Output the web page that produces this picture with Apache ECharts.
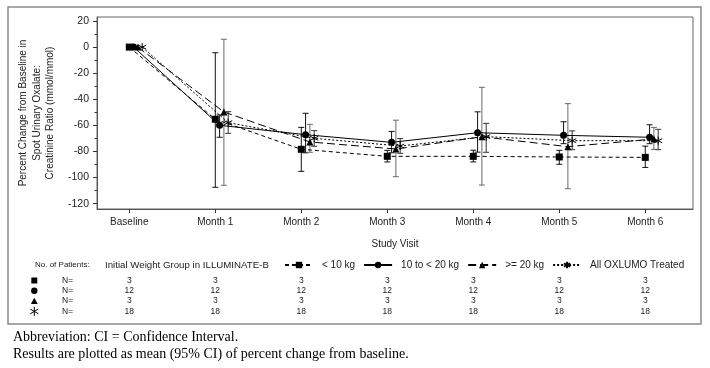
<!DOCTYPE html>
<html><head><meta charset="utf-8">
<script src="https://cdn.jsdelivr.net/npm/echarts@6/dist/echarts.min.js"></script>
<style>html,body{margin:0;padding:0;background:#fff}#c{width:710px;height:368px}</style>
</head><body><div id="c"></div>
<script>
// ---- data ----
const categories = ['Baseline', 'Month 1', 'Month 2', 'Month 3', 'Month 4', 'Month 5', 'Month 6'];
const seriesNames = ['< 10 kg', '10 to < 20 kg', '>= 20 kg', 'All OXLUMO Treated'];

const meanLt10 = [0, -55.3, -78.3, -83.7, -83.7, -84.2, -84.5];
const lowLt10  = [null, -107.4, -95.2, -88.0, -88.0, -89.8, -92.2];
const highLt10 = [null, -4.3, -61.5, -79.1, -79.0, -79.1, -75.9];

const mean10to20 = [0, -59.9, -67.1, -73.0, -65.6, -67.6, -69.1];
const low10to20  = [null, -69.1, -81.0, -81.0, -80.5, -74.0, -74.0];
const high10to20 = [null, -52.0, -50.7, -64.6, -49.6, -57.2, -59.5];

const meanGe20 = [0, -49.7, -72.7, -78.1, -68.7, -76.3, -70.4];
const lowGe20  = [null, -105.9, -80.6, -99.3, -105.7, -108.5, -78.4];
const highGe20 = [null, 6.0, -59.2, -56.0, -30.8, -43.3, -61.5];

const meanAll = [0, -57.9, -69.9, -75.8, -68.6, -71.7, -71.7];
const lowAll  = [null, -66.1, -76.0, -81.4, -80.6, -78.6, -78.6];
const highAll = [null, -49.5, -64.0, -70.1, -58.4, -64.2, -63.0];

const nLt10 = [3, 3, 3, 3, 3, 3, 3];
const n10to20 = [12, 12, 12, 12, 12, 12, 12];
const nGe20 = [3, 3, 3, 3, 3, 3, 3];
const nAll = [18, 18, 18, 18, 18, 18, 18];

const yTicks = [20, 0, -20, -40, -60, -80, -100, -120];
const yMinorTicks = [10, -10, -30, -50, -70, -90, -110];
const xTicks = [0, 1, 2, 3, 4, 5, 6];

// ---- helpers ----
const FONT = '"Liberation Sans", Arial, sans-serif';
const offsets = [0, 0.05, 0.1, 0.15];
const starPath = 'path://M0,-6L0,6M-5.2,-3L5.2,3M-5.2,3L5.2,-3';
function pts(mean, off) { return mean.map((v, i) => [i + off, v]); }
function ci(low, high, off) {
  const out = [];
  low.forEach((l, i) => { if (l != null) out.push([i + off, l, high[i]]); });
  return out;
}
function errRender(color) {
  return function (params, api) {
    const x = api.value(0), lo = api.value(1), hi = api.value(2);
    const a = api.coord([x, lo]), b = api.coord([x, hi]);
    const w = 3;
    const st = { stroke: color, lineWidth: 1 };
    return { type: 'group', children: [
      { type: 'line', shape: { x1: a[0], y1: a[1], x2: b[0], y2: b[1] }, style: st },
      { type: 'line', shape: { x1: a[0] - w, y1: a[1], x2: a[0] + w, y2: a[1] }, style: st },
      { type: 'line', shape: { x1: b[0] - w, y1: b[1], x2: b[0] + w, y2: b[1] }, style: st }
    ] };
  };
}
function errSeries(low, high, off, color) {
  return { type: 'custom', data: ci(low, high, off), encode: { x: 0, y: [1, 2] },
    renderItem: errRender(color), z: 1, silent: true };
}

const chart = echarts.init(document.getElementById('c'), null, { renderer: 'canvas' });
const yMin = -124.06, yMax = 23.07;
chart.setOption({
  animation: false,
  backgroundColor: '#fff',
  grid: { left: 97, top: 17, width: 596, height: 192, show: true, borderColor: '#666', borderWidth: 1 },
  xAxis: {
    type: 'value', min: -0.3756, max: 6.555,
    name: 'Study Visit', nameLocation: 'middle', nameGap: 30,
    nameTextStyle: { fontSize: 10, color: '#222', fontFamily: FONT },
    axisLine: { show: true, onZero: false, lineStyle: { color: '#555' } },
    axisTick: { show: true, length: 4, customValues: xTicks, lineStyle: { color: '#333' } },
    axisLabel: { customValues: xTicks, formatter: v => categories[Math.round(v)], fontSize: 10, margin: 8, color: '#222', fontFamily: FONT },
    splitLine: { show: false }
  },
  yAxis: [{
    type: 'value', min: yMin, max: yMax,
    axisLine: { show: true, onZero: false, lineStyle: { color: '#555' } },
    axisTick: { show: true, length: 4, customValues: yTicks, lineStyle: { color: '#333' } },
    axisLabel: { customValues: yTicks, fontSize: 10.5, margin: 8, color: '#222', fontFamily: FONT },
    splitLine: { show: false }
  }, {
    type: 'value', min: yMin, max: yMax, position: 'left',
    axisLine: { show: false, onZero: false },
    axisTick: { show: true, length: 2.5, customValues: yMinorTicks, lineStyle: { color: '#333' } },
    axisLabel: { show: false },
    splitLine: { show: false }
  }],
  legend: {
    left: 284, top: 260, padding: 0, itemWidth: 28, itemHeight: 8, itemGap: 8,
    selectedMode: false, data: seriesNames,
    textStyle: { fontSize: 10, color: '#222', fontFamily: FONT, padding: [0, 0, 0, 4] }
  },
  series: [
    errSeries(lowLt10, highLt10, offsets[0], '#111'),
    errSeries(low10to20, high10to20, offsets[1], '#111'),
    errSeries(lowGe20, highGe20, offsets[2], '#6a6a6a'),
    errSeries(lowAll, highAll, offsets[3], '#333'),
    { name: seriesNames[0], type: 'line', data: pts(meanLt10, offsets[0]), symbol: 'rect', symbolSize: 7,
      lineStyle: { color: '#000', width: 1, type: [4, 3] }, itemStyle: { color: '#000' }, z: 3, emphasis: { disabled: true } },
    { name: seriesNames[1], type: 'line', data: pts(mean10to20, offsets[1]), symbol: 'circle', symbolSize: 7,
      lineStyle: { color: '#000', width: 1, type: 'solid' }, itemStyle: { color: '#000' }, z: 3, emphasis: { disabled: true } },
    { name: seriesNames[2], type: 'line', data: pts(meanGe20, offsets[2]), symbol: 'triangle', symbolSize: 7,
      lineStyle: { color: '#000', width: 1, type: [8, 4] }, itemStyle: { color: '#000' }, z: 3, emphasis: { disabled: true } },
    { name: seriesNames[3], type: 'line', data: pts(meanAll, offsets[3]), symbol: starPath, symbolSize: 8,
      lineStyle: { color: '#000', width: 1, type: [2, 2] },
      itemStyle: { color: 'rgba(0,0,0,0)', borderColor: '#000', borderWidth: 1 }, z: 3, emphasis: { disabled: true } }
  ]
});

// ---- annotations (table, titles, footnotes) ----
const xs = categories.map((c, i) => chart.convertToPixel({ xAxisIndex: 0 }, i));
const g = [];
g.push({ type: 'rect', shape: { x: 8, y: 7, width: 693, height: 317 }, style: { fill: 'none', stroke: '#8a8a8a', lineWidth: 1.5 }, silent: true });
g.push({ type: 'text', x: 37, y: 113, rotation: Math.PI / 2,
  style: { text: 'Percent Change from Baseline in\nSpot Urinary Oxalate:\nCreatinine Ratio (mmol/mmol)',
    fontSize: 10, fontFamily: FONT, fill: '#222', align: 'center', verticalAlign: 'middle', lineHeight: 13.5 } });
g.push({ type: 'text', x: 105, y: 265, style: { text: 'Initial Weight Group in ILLUMINATE-B', fontSize: 9.7, fontFamily: FONT, fill: '#222', align: 'left', verticalAlign: 'middle' } });
g.push({ type: 'text', x: 35, y: 265, style: { text: 'No. of Patients:', fontSize: 8, fontFamily: FONT, fill: '#222', align: 'left', verticalAlign: 'middle' } });

const rows = [nLt10, n10to20, nGe20, nAll];
const rowY = [280.5, 290.8, 301.1, 311.4];
const sx = 34.3;
// row symbols
g.push({ type: 'rect', shape: { x: sx - 3, y: rowY[0] - 3, width: 6, height: 6 }, style: { fill: '#000' } });
g.push({ type: 'circle', shape: { cx: sx, cy: rowY[1], r: 3.2 }, style: { fill: '#000' } });
g.push({ type: 'polygon', shape: { points: [[sx, rowY[2] - 3.4], [sx + 3.4, rowY[2] + 2.8], [sx - 3.4, rowY[2] + 2.8]] }, style: { fill: '#000' } });
const ay = rowY[3];
[[0, -4.5, 0, 4.5], [-4, -2.3, 4, 2.3], [-4, 2.3, 4, -2.3]].forEach(s => {
  g.push({ type: 'line', shape: { x1: sx + s[0], y1: ay + s[1], x2: sx + s[2], y2: ay + s[3] }, style: { stroke: '#000', lineWidth: 1 } });
});
rows.forEach((arr, r) => {
  g.push({ type: 'text', x: 62, y: rowY[r], style: { text: 'N=', fontSize: 8.5, fontFamily: FONT, fill: '#222', align: 'left', verticalAlign: 'middle' } });
  arr.forEach((v, i) => {
    g.push({ type: 'text', x: xs[i], y: rowY[r], style: { text: String(v), fontSize: 8.5, fontFamily: FONT, fill: '#222', align: 'center', verticalAlign: 'middle' } });
  });
});
const SERIF = '"Liberation Serif", "Times New Roman", serif';
g.push({ type: 'text', x: 13, y: 337, style: { text: 'Abbreviation: CI = Confidence Interval.', fontSize: 14, fontFamily: SERIF, fill: '#000', align: 'left', verticalAlign: 'middle' } });
g.push({ type: 'text', x: 13, y: 354, style: { text: 'Results are plotted as mean (95% CI) of percent change from baseline.', fontSize: 14, fontFamily: SERIF, fill: '#000', align: 'left', verticalAlign: 'middle' } });
chart.setOption({ graphic: g });
</script>
</body></html>
